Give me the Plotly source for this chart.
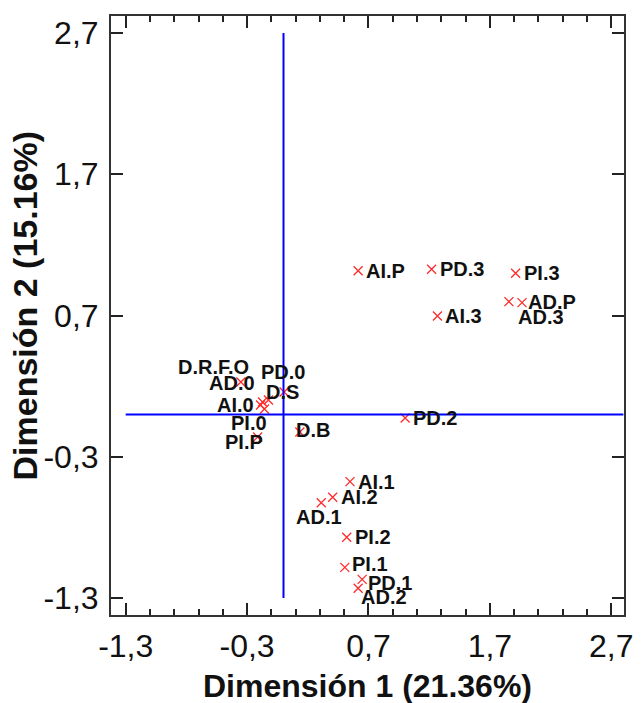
import plotly.graph_objects as go

# ---- data ----
labels = ["AI.P", "PD.3", "PI.3", "AD.P", "AD.3", "AI.3", "PD.2", "AI.1", "AI.2",
          "AD.1", "PI.2", "PI.1", "PD.1", "AD.2", "D.R.F.O", "AD.0", "PD.0",
          "D.S", "AI.0", "PI.0", "PI.P", "D.B"]
dim1 = [0.615, 1.220, 1.912, 1.965, 1.857, 1.268, 1.002, 0.548, 0.405,
        0.311, 0.521, 0.505, 0.648, 0.615, -0.173, -0.351, -0.124,
        0.005, -0.189, -0.157, -0.213, 0.135]
dim2 = [1.017, 1.027, 0.999, 0.791, 0.798, 0.696, -0.026, -0.476, -0.587,
        -0.625, -0.870, -1.083, -1.168, -1.231, 0.088, 0.229, 0.102,
        0.158, 0.066, 0.038, -0.160, -0.125]

tick_vals = [-1.3, -0.3, 0.7, 1.7, 2.7]
tick_text = ["-1,3", "-0,3", "0,7", "1,7", "2,7"]

x_title = "Dimensión 1 (21.36%)"
y_title = "Dimensión 2 (15.16%)"

# ---- label placement (pixel offsets: dx right, dy down) ----
label_offsets = {
    "AD.P": (4, -1), "AD.3": (7, 15), "AD.1": (-27, 14), "PI.1": (5, -3),
    "PD.1": (4, 4), "AD.2": (1, 9), "D.R.F.O": (-87, -35), "AD.0": (-34, 1),
    "PD.0": (-9, -28), "D.S": (-20, 0), "AI.0": (-46, 0), "PI.0": (-35, 14),
    "PI.P": (-35, 5), "D.B": (-6, -2),
}
default_offset = (6, 0)

FONT = "Liberation Sans, Arial"

fig = go.Figure()
fig.add_trace(go.Scatter(
    x=dim1, y=dim2, mode="markers",
    marker=dict(symbol="x-thin", size=9, color="#ff2a2a",
                line=dict(color="#ff2a2a", width=1.3)),
    hoverinfo="text", text=labels, showlegend=False,
))

annotations = []
for lab, xv, yv in zip(labels, dim1, dim2):
    dx, dy = label_offsets.get(lab, default_offset)
    annotations.append(dict(
        x=xv, y=yv, xref="x", yref="y", text=lab, showarrow=False,
        xanchor="left", yanchor="middle", xshift=dx, yshift=-dy,
        font=dict(family=FONT, size=20, color="#111111", weight="bold"),
    ))

annotations.append(dict(
    x=0.5, y=0, xref="paper", yref="paper", text=x_title, showarrow=False,
    xanchor="center", yanchor="middle", yshift=-71,
    font=dict(family=FONT, size=32, color="#111111", weight="bold"),
))
annotations.append(dict(
    x=0, y=0.5, xref="paper", yref="paper", text=y_title, showarrow=False,
    xanchor="center", yanchor="middle", xshift=-87, yshift=10, textangle=-90,
    font=dict(family=FONT, size=34, color="#111111", weight="bold"),
))

shapes = [
    dict(type="line", xref="x", yref="y", x0=0, x1=0, y0=-1.3, y1=2.7,
         line=dict(color="#0000ff", width=2)),
    dict(type="line", xref="x", yref="y", x0=-1.3, x1=2.8, y0=0, y1=0,
         line=dict(color="#0000ff", width=2)),
]

axis_common = dict(
    showgrid=False, zeroline=False, showline=True, linecolor="#333333",
    linewidth=2, mirror="ticks", ticks="inside", ticklen=12, tickwidth=2,
    tickcolor="#222222", tickvals=tick_vals, ticktext=tick_text,
    tickfont=dict(family=FONT, size=32, color="#111111"),
)

fig.update_layout(
    width=643, height=703,
    margin=dict(l=111, r=10, t=16, b=88),
    paper_bgcolor="white", plot_bgcolor="white",
    xaxis=dict(range=[-1.421, 2.805], ticklabelstandoff=2,
               minor=dict(tickvals=[round(-1.3 + 0.2 * i, 2) for i in range(21)],
                          ticks="inside", ticklen=6, tickwidth=2,
                          tickcolor="#222222"),
               **axis_common),
    yaxis=dict(range=[-1.42, 2.82], ticklabelstandoff=4, **axis_common),
    annotations=annotations, shapes=shapes,
)

fig.write_html("out.html")
